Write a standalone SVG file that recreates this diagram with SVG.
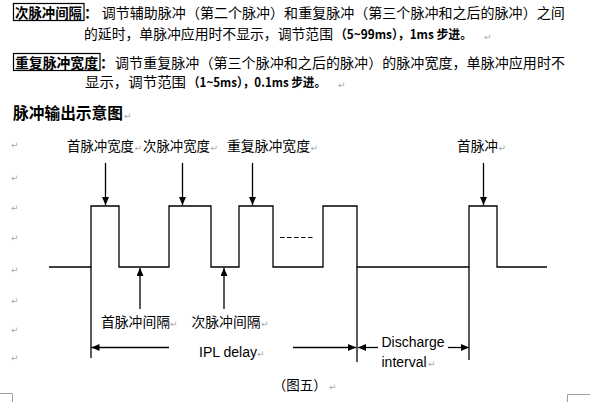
<svg xmlns="http://www.w3.org/2000/svg" width="601" height="402" viewBox="0 0 601 402">
<style>
.cjk{font-family:"Noto Sans CJK SC","Noto Sans CJK JP",sans-serif;font-size:14px;fill:#000}
.lbl{font-family:"Noto Sans CJK SC","Noto Sans CJK JP",sans-serif;font-size:13.5px;fill:#000}
.lat{font-family:"Liberation Sans",Arial,sans-serif;font-size:14px;fill:#000}
.b{font-weight:bold}
.sm{font-size:12.5px}
.pm{font-family:"DejaVu Sans",sans-serif;font-size:9px;fill:#a8a8a8}
.ln{stroke:#000;stroke-width:1.3;fill:none}
.arr{stroke:#000;stroke-width:1.3;fill:none;marker-end:url(#ah)}
.box{fill:none;stroke:#000;stroke-width:1.2}
.crn{stroke:#a0a0a0;stroke-width:1;fill:none}
</style>
<defs>
<marker id="ah" markerUnits="userSpaceOnUse" markerWidth="9" markerHeight="8" refX="8" refY="3.5" orient="auto">
<path d="M0,0 L8,3.5 L0,7 Z" fill="#000"/>
</marker>
</defs>
<rect width="601" height="402" fill="#fff"/>

<g id="para1">
<rect class="box" x="13.5" y="3.5" width="70.5" height="17"/>
<text class="cjk b" x="15" y="18" textLength="67" lengthAdjust="spacingAndGlyphs">次脉冲间隔</text>
<text class="cjk b" x="84" y="18">：</text>
<text class="cjk" x="101.7" y="18" textLength="463" lengthAdjust="spacing">调节辅助脉冲（第二个脉冲）和重复脉冲（第三个脉冲和之后的脉冲）之间</text>
<text class="cjk" x="84" y="39" textLength="249" lengthAdjust="spacingAndGlyphs">的延时，单脉冲应用时不显示，调节范围</text>
<text class="cjk b sm" x="335" y="39" textLength="137" lengthAdjust="spacingAndGlyphs">（5~99ms），1ms 步进。</text>
</g>

<g id="para2">
<rect class="box" x="13.5" y="53.5" width="86.5" height="17"/>
<text class="cjk b" x="15" y="68" textLength="83" lengthAdjust="spacingAndGlyphs">重复脉冲宽度</text>
<text class="cjk b" x="100" y="68">：</text>
<text class="cjk" x="115" y="68" textLength="450" lengthAdjust="spacing">调节重复脉冲（第三个脉冲和之后的脉冲）的脉冲宽度，单脉冲应用时不</text>
<text class="cjk" x="85" y="87" textLength="101" lengthAdjust="spacingAndGlyphs">显示，调节范围</text>
<text class="cjk b sm" x="188" y="87" textLength="138" lengthAdjust="spacingAndGlyphs">（1~5ms），0.1ms 步进。</text>
</g>

<g id="heading">
<text class="cjk b" x="13" y="119" style="font-size:16px" textLength="110" lengthAdjust="spacingAndGlyphs">脉冲输出示意图</text>
</g>

<g id="waveform">
<path class="ln" d="M49,267 H91 V206 H119 V267 H169 V206 H211 V267 H239 V206 H273 V267 H323 V206 H357 V267 H469 V206 H497 V267 H547"/>
<line x1="280" y1="237.5" x2="313" y2="237.5" stroke="#000" stroke-width="1.2" stroke-dasharray="4.5,2.5"/>
</g>

<g id="markers">
<line class="ln" x1="91" y1="267" x2="91" y2="358"/>
<line class="ln" x1="357" y1="267" x2="357" y2="362"/>
<line class="ln" x1="469" y1="267" x2="469" y2="360"/>
</g>

<g id="connectors">
<line class="arr" x1="105.5" y1="163" x2="105.5" y2="205"/>
<line class="arr" x1="182.5" y1="163" x2="182.5" y2="205"/>
<line class="arr" x1="252.5" y1="163" x2="252.5" y2="205"/>
<line class="arr" x1="483.5" y1="163" x2="483.5" y2="205"/>
<line class="arr" x1="140" y1="309" x2="140" y2="268"/>
<line class="arr" x1="224" y1="309" x2="224" y2="268"/>
<line class="arr" x1="169" y1="347.5" x2="91.5" y2="347.5"/>
<line class="arr" x1="293" y1="347.5" x2="356" y2="347.5"/>
<line class="arr" x1="378" y1="347.5" x2="358" y2="347.5"/>
<line class="arr" x1="448" y1="347.5" x2="469" y2="347.5"/>
</g>

<g id="label-first-width"><text class="lbl" x="67" y="151" textLength="67" lengthAdjust="spacingAndGlyphs">首脉冲宽度</text></g>
<g id="label-second-width"><text class="lbl" x="143" y="151" textLength="67" lengthAdjust="spacingAndGlyphs">次脉冲宽度</text></g>
<g id="label-repeat-width"><text class="lbl" x="227" y="151" textLength="83" lengthAdjust="spacingAndGlyphs">重复脉冲宽度</text></g>
<g id="label-first-pulse"><text class="lbl" x="457" y="151" textLength="41" lengthAdjust="spacingAndGlyphs">首脉冲</text></g>
<g id="label-first-interval"><text class="lbl" x="101" y="327" textLength="69" lengthAdjust="spacingAndGlyphs">首脉冲间隔</text></g>
<g id="label-second-interval"><text class="lbl" x="191.5" y="327" textLength="69" lengthAdjust="spacingAndGlyphs">次脉冲间隔</text></g>
<g id="label-ipl"><text class="lat" x="199" y="357" textLength="58" lengthAdjust="spacingAndGlyphs">IPL delay</text></g>
<g id="label-discharge"><text class="lat" x="381.5" y="347">Discharge</text><text class="lat" x="381.5" y="367">interval</text></g>
<g id="caption"><text class="lbl" x="272.7" y="390" textLength="54" lengthAdjust="spacingAndGlyphs">（图五）</text></g>

<g id="paragraph-marks">
<text class="pm" x="11" y="148">↵</text>
<text class="pm" x="11" y="181">↵</text>
<text class="pm" x="11" y="211">↵</text>
<text class="pm" x="11" y="241">↵</text>
<text class="pm" x="11" y="273">↵</text>
<text class="pm" x="11" y="304">↵</text>
<text class="pm" x="11" y="333">↵</text>
<text class="pm" x="11" y="361">↵</text>
<text class="pm" x="484" y="40">↵</text>
<text class="pm" x="338" y="88">↵</text>
<text class="pm" x="124" y="119">↵</text>
<text class="pm" x="134.5" y="151">↵</text>
<text class="pm" x="210.5" y="151">↵</text>
<text class="pm" x="310.5" y="151">↵</text>
<text class="pm" x="498.5" y="151">↵</text>
<text class="pm" x="170" y="327">↵</text>
<text class="pm" x="261" y="327">↵</text>
<text class="pm" x="257" y="357">↵</text>
<text class="pm" x="428" y="367">↵</text>
<text class="pm" x="329" y="390">↵</text>
</g>

<g id="page-corners">
<path class="crn" d="M0,393.5 H12.5 V402"/>
<path class="crn" d="M590,394.5 H567.5 V402"/>
</g>
</svg>
